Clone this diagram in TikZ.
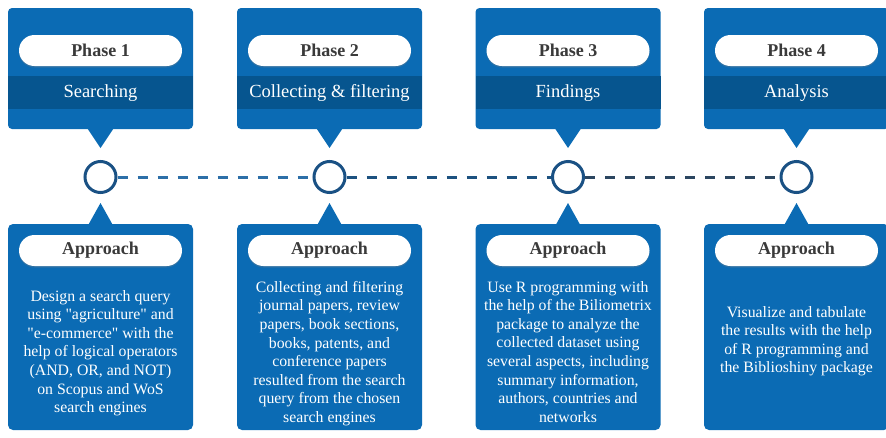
\documentclass[tikz,border=0pt]{standalone}
\usepackage{fontspec}
\setmainfont{Liberation Serif}
\usepackage{xcolor}
\usepackage{tikz}
\usetikzlibrary{positioning, shadows}

\definecolor{BoxBlue}{HTML}{0B6BB4}
\definecolor{BandBlue}{HTML}{06558F}
\definecolor{RingBlue}{HTML}{1A5184}
\definecolor{PillText}{HTML}{3A3A3A}
\definecolor{LinkA}{HTML}{2D6FA8}
\definecolor{LinkB}{HTML}{1D5280}
\definecolor{LinkC}{HTML}{2B4660}

\begin{document}
\begin{tikzpicture}[x=1pt, y=1pt,
		PhaseBox/.style={rectangle, rounded corners=4pt, fill=BoxBlue, minimum width=185pt, minimum height=121pt, inner sep=0pt, outer sep=0pt},
		InfoBox/.style={PhaseBox, rounded corners=5pt, minimum height=206pt},
		TitlePill/.style={rectangle, rounded corners=15.5pt, fill=white, minimum width=163pt, minimum height=31pt, inner sep=0pt, outer sep=0pt, text=PillText, font=\fontsize{18}{20}\selectfont\bfseries, drop shadow={shadow xshift=0pt, shadow yshift=-1.5pt, opacity=0.3}},
		StageBand/.style={rectangle, fill=BandBlue, minimum width=185pt, minimum height=33pt, inner sep=0pt, text=white, font=\fontsize{18.5}{20}\selectfont},
		BodyText/.style={text=white, align=center, inner sep=0pt, font=\fontsize{15.8}{18.6}\selectfont},
		StepCircle/.style={circle, draw=RingBlue, line width=3pt, fill=white, minimum size=31pt, inner sep=0pt},
		Link/.style={line width=3pt, dash pattern=on 10pt off 10pt},
		Pointer/.style={fill=BoxBlue}]

	\clip (0,0) rectangle (886,-437);

	% Phase boxes
	\node[PhaseBox] (Phase1) at (100.5,-68.5) {};
	\node[PhaseBox] (Phase2) at (329.5,-68.5) {};
	\node[PhaseBox] (Phase3) at (568,-68.5) {};
	\node[PhaseBox] (Phase4) at (796.5,-68.5) {};

	\node[TitlePill, below=27pt of Phase1.north] (Title1) {Phase 1};
	\node[TitlePill, below=27pt of Phase2.north] (Title2) {Phase 2};
	\node[TitlePill, below=27pt of Phase3.north] (Title3) {Phase 3};
	\node[TitlePill, below=27pt of Phase4.north] (Title4) {Phase 4};

	\node[StageBand, below=10pt of Title1] (Band1) {Searching};
	\node[StageBand, below=10pt of Title2] (Band2) {Collecting \& filtering};
	\node[StageBand, below=10pt of Title3] (Band3) {Findings};
	\node[StageBand, below=10pt of Title4] (Band4) {Analysis};

	% Timeline stops
	\node[StepCircle, below=31pt of Phase1] (Stop1) {};
	\node[StepCircle, below=31pt of Phase2] (Stop2) {};
	\node[StepCircle, below=31pt of Phase3] (Stop3) {};
	\node[StepCircle, below=31pt of Phase4] (Stop4) {};

	% Approach boxes
	\node[InfoBox, below=30pt of Stop1] (Info1) {};
	\node[InfoBox, below=30pt of Stop2] (Info2) {};
	\node[InfoBox, below=30pt of Stop3] (Info3) {};
	\node[InfoBox, below=30pt of Stop4] (Info4) {};

	\node[TitlePill, below=11pt of Info1.north] (Head1) {Approach};
	\node[TitlePill, below=11pt of Info2.north] (Head2) {Approach};
	\node[TitlePill, below=11pt of Info3.north] (Head3) {Approach};
	\node[TitlePill, below=11pt of Info4.north] (Head4) {Approach};

	\node[BodyText, below=24pt of Head1] (Text1) {Design a search query\\using \textquotedbl agriculture\textquotedbl{} and\\\textquotedbl e-commerce\textquotedbl{} with the\\help of logical operators\\(AND, OR, and NOT)\\on Scopus and WoS\\search engines};
	\node[BodyText, below=15pt of Head2] (Text2) {Collecting and filtering\\journal papers, review\\papers, book sections,\\books, patents, and\\conference papers\\resulted from the search\\query from the chosen\\search engines};
	\node[BodyText, below=15pt of Head3] (Text3) {Use R programming with\\the help of the Biliometrix\\package to analyze the\\collected dataset using\\several aspects, including\\summary information,\\authors, countries and\\networks};
	\node[BodyText, below=40pt of Head4] (Text4) {Visualize and tabulate\\the results with the help\\of R programming and\\the Biblioshiny package};

	% Pointers
	\fill[Pointer] ([xshift=-13pt, yshift=0.5pt]Phase1.south) -- ([yshift=-19pt]Phase1.south) -- ([xshift=13pt, yshift=0.5pt]Phase1.south) -- cycle;
	\fill[Pointer] ([xshift=-13pt, yshift=0.5pt]Phase2.south) -- ([yshift=-19pt]Phase2.south) -- ([xshift=13pt, yshift=0.5pt]Phase2.south) -- cycle;
	\fill[Pointer] ([xshift=-13pt, yshift=0.5pt]Phase3.south) -- ([yshift=-19pt]Phase3.south) -- ([xshift=13pt, yshift=0.5pt]Phase3.south) -- cycle;
	\fill[Pointer] ([xshift=-13pt, yshift=0.5pt]Phase4.south) -- ([yshift=-19pt]Phase4.south) -- ([xshift=13pt, yshift=0.5pt]Phase4.south) -- cycle;

	\fill[Pointer] ([xshift=-12pt, yshift=-0.5pt]Info1.north) -- ([yshift=21pt]Info1.north) -- ([xshift=12pt, yshift=-0.5pt]Info1.north) -- cycle;
	\fill[Pointer] ([xshift=-12pt, yshift=-0.5pt]Info2.north) -- ([yshift=21pt]Info2.north) -- ([xshift=12pt, yshift=-0.5pt]Info2.north) -- cycle;
	\fill[Pointer] ([xshift=-12pt, yshift=-0.5pt]Info3.north) -- ([yshift=21pt]Info3.north) -- ([xshift=12pt, yshift=-0.5pt]Info3.north) -- cycle;
	\fill[Pointer] ([xshift=-12pt, yshift=-0.5pt]Info4.north) -- ([yshift=21pt]Info4.north) -- ([xshift=12pt, yshift=-0.5pt]Info4.north) -- cycle;

	% Lines
	\draw[Link, draw=LinkA] (Stop1) -- (Stop2);
	\draw[Link, draw=LinkB] (Stop2) -- (Stop3);
	\draw[Link, draw=LinkC] (Stop3) -- (Stop4);
\end{tikzpicture}
\end{document}
